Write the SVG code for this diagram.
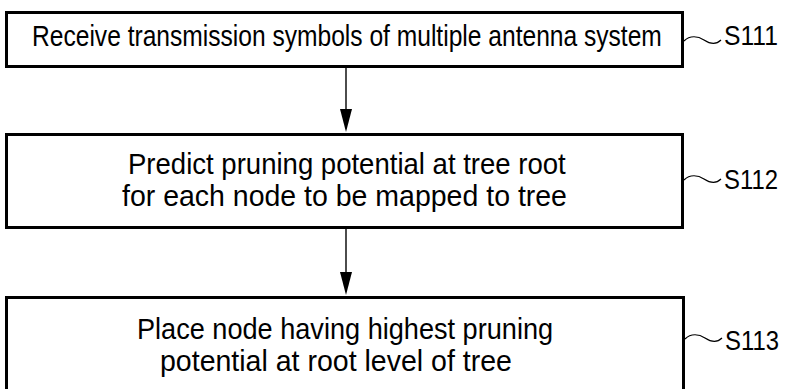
<svg xmlns="http://www.w3.org/2000/svg" width="787" height="389" viewBox="0 0 787 389">
<style>
.box{fill:#fff;stroke:#000;stroke-width:3}
.t{font-family:"Liberation Sans",Arial,sans-serif;font-size:29px;fill:#000}
.lab{font-family:"Liberation Sans",Arial,sans-serif;font-size:27px;fill:#000}
.conn{stroke:#000;stroke-width:1.4;fill:none}
.tl{stroke:#000;stroke-width:1.2;fill:none}
</style>
<rect width="787" height="389" fill="#fff"/>
<g id="connectors">
<line class="conn" x1="346" y1="68" x2="346" y2="109"/>
<path d="M340,109 L352,109 L346,132 Z" fill="#000"/>
<line class="conn" x1="346" y1="229" x2="346" y2="272"/>
<path d="M340,272 L352,272 L346,295 Z" fill="#000"/>
</g>
<g id="S111">
<rect class="box" x="6.5" y="12.5" width="676" height="54"/>
<text class="t" transform="translate(32,46) scale(0.85,1)" x="0" y="0" textLength="741" lengthAdjust="spacingAndGlyphs">Receive transmission symbols of multiple antenna system</text>
<path class="tl" d="M684,41 C690,35 698,36 704,40 S716,45 721,40"/>
<text class="lab" transform="translate(724,45) scale(0.85,1)" x="0" y="0" textLength="63.5" lengthAdjust="spacingAndGlyphs">S111</text>
</g>
<g id="S112">
<rect class="box" x="6.5" y="134.5" width="676" height="93"/>
<text class="t" transform="translate(128,174) scale(0.85,1)" x="0" y="0" textLength="515" lengthAdjust="spacingAndGlyphs">Predict pruning potential at tree root</text>
<text class="t" transform="translate(122,206) scale(0.85,1)" x="0" y="0" textLength="523.5" lengthAdjust="spacingAndGlyphs">for each node to be mapped to tree</text>
<path class="tl" d="M684,180 C690,174 698,175 704,179 S716,184 721,179"/>
<text class="lab" transform="translate(724,189) scale(0.85,1)" x="0" y="0" textLength="63.5" lengthAdjust="spacingAndGlyphs">S112</text>
</g>
<g id="S113">
<rect class="box" x="6.5" y="297.5" width="677" height="100"/>
<text class="t" transform="translate(137,339) scale(0.85,1)" x="0" y="0" textLength="489.5" lengthAdjust="spacingAndGlyphs">Place node having highest pruning</text>
<text class="t" transform="translate(160,371) scale(0.85,1)" x="0" y="0" textLength="414" lengthAdjust="spacingAndGlyphs">potential at root level of tree</text>
<path class="tl" d="M685,339 C691,333 699,334 705,338 S717,343 722,338"/>
<text class="lab" transform="translate(725,350) scale(0.85,1)" x="0" y="0" textLength="63.5" lengthAdjust="spacingAndGlyphs">S113</text>
</g>
</svg>
